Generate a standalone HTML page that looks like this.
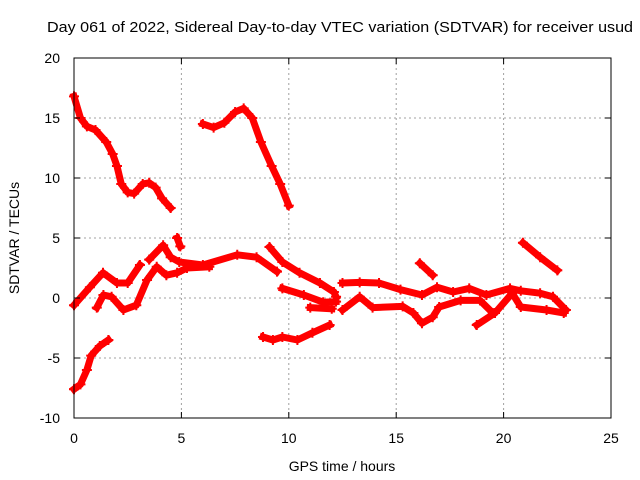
<!DOCTYPE html>
<html><head><meta charset="utf-8"><style>
body{margin:0;background:#fff;}
svg{display:block;font-family:"Liberation Sans",sans-serif;}
</style></head><body>
<svg id="chart" width="640" height="480">
<text x="47" y="32" font-size="15" textLength="586" lengthAdjust="spacingAndGlyphs">Day 061 of 2022, Sidereal Day-to-day VTEC variation (SDTVAR) for receiver usud</text>
<g id="grid"></g>
<g id="marks"></g>
<rect x="74" y="58" width="537" height="360" fill="none" stroke="#000" stroke-width="1"/>
<g id="axes"></g>
<text x="342" y="471" font-size="14" text-anchor="middle">GPS time / hours</text>
<text x="19" y="238" font-size="14" text-anchor="middle" transform="rotate(-90 19 238)">SDTVAR / TECUs</text>
</svg>
<script>
const xTicks=[0,5,10,15,20,25];
const yTicks=[-10,-5,0,5,10,15,20];
const trackA=[[0,16.8],[0.3,15],[0.6,14.3],[1,14],[1.5,13],[1.8,12],[2,11],[2.2,9.5],[2.5,8.8],[2.8,8.7],[3.2,9.5],[3.5,9.6],[3.8,9.2],[4.1,8.3],[4.5,7.5]];
const trackB=[[6,14.5],[6.5,14.2],[7,14.6],[7.5,15.5],[7.9,15.8],[8.3,15],[8.7,13],[9.2,11],[9.6,9.5],[10,7.7]];
const trackC=[[0,-7.6],[0.3,-7.2],[0.6,-6],[0.8,-4.8],[1.2,-4],[1.6,-3.5]];
const trackD1=[[0,-0.6],[0.74,0.9],[1.35,2.1],[2.0,1.25],[2.5,1.25],[3.07,2.75]];
const trackD2=[[3.5,3.2],[4.15,4.4],[4.5,3.4],[4.9,3.0],[6.0,2.75],[7.6,3.6],[8.5,3.4],[9.45,2.2]];
const trackD3=[[1.06,-0.8],[1.37,0.25],[1.75,0.1],[2.3,-1.0],[2.9,-0.6],[3.4,1.5],[3.85,2.6],[4.3,1.9],[4.8,2.1],[5.26,2.5],[6.3,2.6]];
const trackSpike=[[4.8,5.0],[4.95,4.3]];
const trackE=[[9.1,4.25],[9.7,3.0],[10.5,2.1],[11.45,1.25],[12.1,0.5],[12.2,0.1]];
const trackF=[[9.7,0.8],[10.7,0.25],[11.6,-0.35],[12.2,-0.3]];
const trackF2=[[11,-0.8],[12.0,-0.9]];
const trackG=[[8.8,-3.25],[9.26,-3.5],[9.7,-3.25],[10.4,-3.5],[11.1,-2.9],[11.9,-2.25]];
const trackH1=[[12.5,1.25],[13.3,1.3],[14.2,1.25],[15.2,0.7],[16.2,0.25],[16.9,0.9],[17.65,0.5],[18.4,0.8],[19.2,0.25],[20.3,0.8],[20.8,0.6],[21.7,0.4],[22.3,0.1],[22.9,-1.0]];
const trackH2=[[12.5,-1.0],[13.3,0.1],[13.9,-0.8],[15.3,-0.7],[15.8,-1.25],[16.2,-2.1],[16.7,-1.6],[17.0,-0.75],[18.0,-0.2],[18.9,-0.2],[19.5,-1.25]];
const trackH3=[[18.75,-2.25],[19.6,-1.25],[20.4,0.4],[20.8,-0.75],[22.0,-1.0],[22.8,-1.25]];
const trackI=[[16.1,2.9],[16.7,1.9]];
const trackJ=[[20.9,4.6],[21.7,3.4],[22.5,2.3]];
const tracks=[trackA,trackB,trackC,trackD1,trackD2,trackD3,trackSpike,trackE,trackF,trackF2,trackG,trackH1,trackH2,trackH3,trackI,trackJ];

const NS="http://www.w3.org/2000/svg";
const X=v=>74+v*537/25;
const Y=v=>418-(v+10)*12;
function mk(tag,attrs,parent){const e=document.createElementNS(NS,tag);for(const k in attrs)e.setAttribute(k,attrs[k]);parent.appendChild(e);return e;}
const grid=document.getElementById('grid'),axes=document.getElementById('axes'),marks=document.getElementById('marks');
xTicks.forEach(t=>{
  const x=X(t);
  if(t>0&&t<25){const g=mk('line',{x1:x,x2:x,y1:58,y2:418,stroke:'#a0a0a0','stroke-dasharray':'2,3'},grid);
  
  }
  mk('line',{x1:x,x2:x,y1:418,y2:412,stroke:'#000'},axes);
  mk('line',{x1:x,x2:x,y1:58,y2:64,stroke:'#000'},axes);
  const l=mk('text',{x:x,y:443,'font-size':14,'text-anchor':'middle'},axes);l.textContent=t;
  
  
});
yTicks.forEach(t=>{
  const y=Y(t);
  if(t>-10&&t<20){const g=mk('line',{x1:74,x2:611,y1:y,y2:y,stroke:'#a0a0a0','stroke-dasharray':'2,3'},grid);
  
  }
  mk('line',{x1:74,x2:80,y1:y,y2:y,stroke:'#000'},axes);
  mk('line',{x1:611,x2:605,y1:y,y2:y,stroke:'#000'},axes);
  const l=mk('text',{x:60,y:y+5,'font-size':14,'text-anchor':'end'},axes);l.textContent=t;
  
  
});
tracks.forEach(tr=>{
  const p=mk('polyline',{points:tr.map(d=>X(d[0])+','+Y(d[1])).join(' '),fill:'none',stroke:'#ff0000','stroke-width':7,'stroke-linejoin':'round','stroke-linecap':'square'},marks);
  
  
  tr.forEach(d=>{
    const m=mk('path',{d:`M${X(d[0])-5},${Y(d[1])}h10M${X(d[0])},${Y(d[1])-5}v10`,stroke:'#ff0000','stroke-width':2},marks);
    
    
  });
});
</script>
</body></html>
